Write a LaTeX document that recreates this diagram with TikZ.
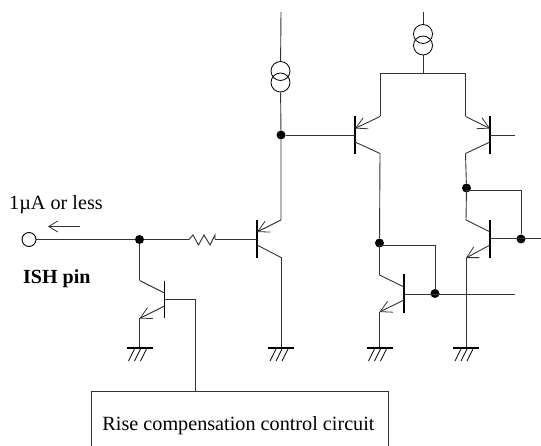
\documentclass[tikz,border=0pt]{standalone}
\usepackage{fontspec}
\setmainfont{Liberation Serif}
\usetikzlibrary{arrows.meta}
\tikzset{
  wire/.style={line width=0.9pt,black!80},
  bar/.style={line width=1.4pt,black},
  emit/.style={wire,-{Straight Barb[length=11pt,width=12pt,line width=0.8pt]}},
  dotnode/.style={circle,fill=black,inner sep=0pt,minimum size=9pt},
  lbl/.style={font=\fontsize{20.2}{22}\selectfont,inner sep=0pt},
}
\begin{document}
\begin{tikzpicture}[x=1pt,y=-1pt]
\useasboundingbox (0,0) rectangle (541,446);

% input pin
\node[circle,draw,line width=0.9pt,fill=white,minimum size=14pt,inner sep=0pt] (pin) at (29,239.5) {};
\node[dotnode] (j1) at (139.5,239.5) {};
\node[lbl,anchor=base west] (curlbl) at (9,210) {1µA or less};
\node[lbl,anchor=base west,font=\fontsize{20}{22}\selectfont\bfseries] (pinlbl) at (23,284) {ISH pin};
\coordinate (a1) at (80,226.5);
\coordinate (a2) at (48,226.5);
\draw[wire,-{Straight Barb[length=9pt,width=11pt,line width=0.8pt]}] (a1) -- (a2);

% resistor
\coordinate (r1) at (189,239.5);
\coordinate (r2) at (215,239.5);
\draw[wire] (pin) -- (j1) -- (r1);
\draw[wire] (r1) -- ++(4,-4.5) -- ++(5.5,10) -- ++(5.5,-10) -- ++(6,10) -- ++(5,-10) -- (r2);

% input PNP
\coordinate (q1b) at (257,239.5);
\coordinate (q1e) at (281,220);
\coordinate (q1c) at (281,257.5);
\draw[bar] (257,220) -- (257,258);
\draw[emit] (q1e) -- (257,232);
\draw[wire] (257,245) -- (q1c);
\draw[wire] (r2) -- (q1b);

% clamp NPN
\coordinate (q2b) at (164.5,299.5);
\coordinate (q2c) at (139.5,280.5);
\coordinate (q2e) at (139.5,318.5);
\draw[bar] (164.5,281) -- (164.5,318);
\draw[wire] (q2c) -- (164.5,293);
\draw[emit] (164.5,306) -- (q2e);
\draw[wire] (j1) -- (q2c);

% control box
\node[lbl,anchor=base] (ctrl) at (238.5,430) {Rise compensation control circuit};
\coordinate (boxin) at (195,391.5);
\draw[wire] (91,446) -- (91,391.5) -- (388,391.5) -- (388,446);
\draw[wire] (q2b) -- (195,299.5) -- (boxin);

% left current source
\node[circle,draw,line width=0.8pt,minimum size=19pt,inner sep=0pt] (s1a) at (280.5,71) {};
\node[circle,draw,line width=0.8pt,minimum size=19pt,inner sep=0pt] (s1b) at (280.5,82.5) {};
\node[dotnode] (j2) at (281,135) {};
\coordinate (s1top) at (281,12);
\draw[wire] (s1top) -- (s1a);
\draw[wire] (s1b) -- (j2) -- (q1e);

% right current source
\node[circle,draw,line width=0.8pt,minimum size=19pt,inner sep=0pt] (s2a) at (423,34) {};
\node[circle,draw,line width=0.8pt,minimum size=19pt,inner sep=0pt] (s2b) at (423,45.5) {};
\coordinate (s2top) at (423,12);
\coordinate (s2bot) at (423,73);
\draw[wire] (s2top) -- (s2a);
\draw[wire] (s2b) -- (s2bot);

% diff pair, left
\coordinate (q3e) at (380,116.5);
\coordinate (q3c) at (380,153.5);
\draw[bar] (355,116) -- (355,154);
\draw[emit] (q3e) -- (355,128.5);
\draw[wire] (355,142) -- (q3c);
\draw[wire] (j2) -- (355,135);

% diff pair, right
\coordinate (q4e) at (465.5,116.5);
\coordinate (q4c) at (465.5,153.5);
\draw[bar] (490,116) -- (490,154);
\draw[emit] (q4e) -- (490,128.5);
\draw[wire] (490,142) -- (q4c);
\draw[wire] (490,135) -- (515,135);
\draw[wire] (q3e) -- (380,73) -- (465.5,73) -- (q4e);

% mirror, left
\node[dotnode] (j3) at (379.5,243) {};
\node[dotnode] (j4) at (435,293.5) {};
\coordinate (q5e) at (379.5,312);
\draw[bar] (404,274) -- (404,313);
\draw[wire] (q3c) -- (j3) -- (379.5,275) -- (404,287);
\draw[emit] (404,300) -- (q5e);
\draw[wire] (j3) -- (379.5,245) -- (435,245) -- (j4);
\draw[wire] (404,294) -- (515,294);

% mirror, right
\node[dotnode] (j5) at (466.5,188) {};
\node[dotnode] (j6) at (521,239) {};
\coordinate (q6e) at (466,258);
\draw[bar] (490,220) -- (490,258);
\draw[wire] (q4c) -- (j5) -- (466,220) -- (490,232);
\draw[emit] (490,245) -- (q6e);
\draw[wire] (j5) -- (466.5,190) -- (521,190) -- (j6);
\draw[wire] (490,238.5) -- (541,238.5);

% rails to ground
\draw[wire] (q1c) -- (281,347);
\draw[wire] (q2e) -- (139.5,348);
\draw[wire] (q5e) -- (379.5,348);
\draw[wire] (q6e) -- (466,348);
\foreach \x in {281,139.5,379.5,466} {
  \draw[bar] (\x-13,348) -- (\x+13,348);
  \foreach \d in {-6,0,6}
    \draw[line width=0.8pt] (\x+\d+1,349) -- (\x+\d-5,361);
}
\end{tikzpicture}
\end{document}
